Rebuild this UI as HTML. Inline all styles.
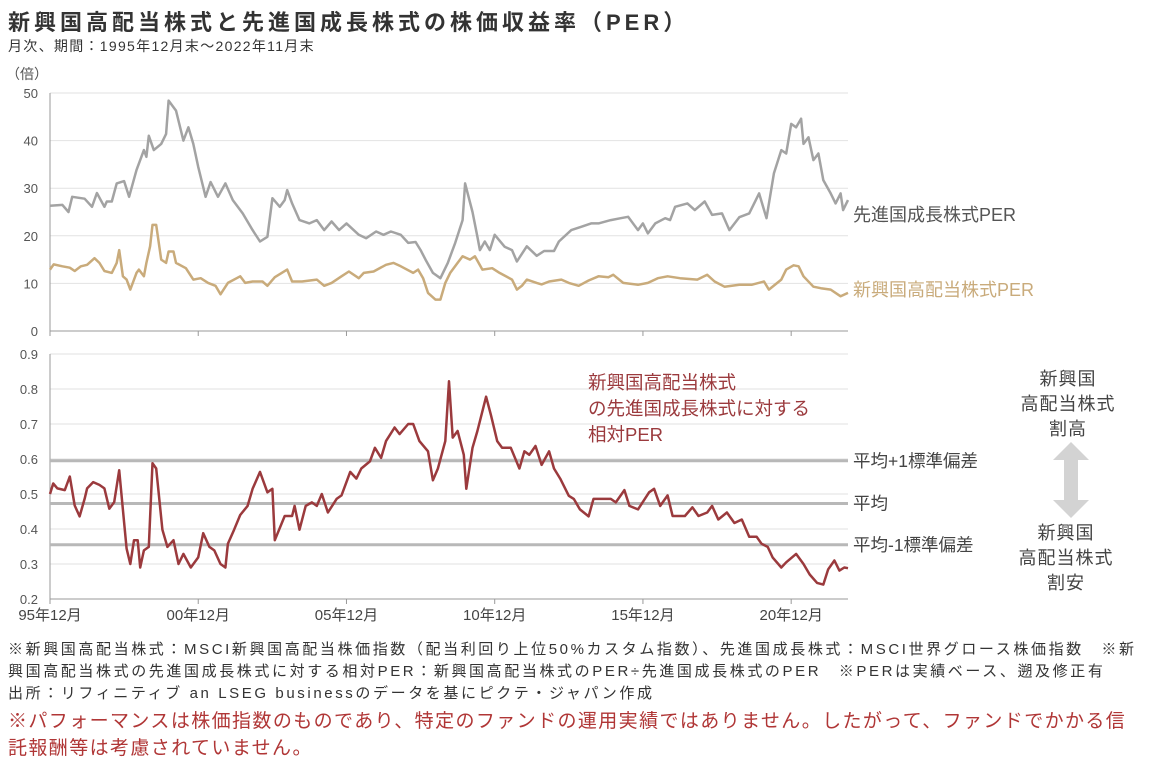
<!DOCTYPE html>
<html><head><meta charset="utf-8">
<style>
body{margin:0;background:#fff;width:1156px;height:759px;overflow:hidden;position:relative;font-family:"Liberation Sans","Noto Sans CJK JP",sans-serif;}
.t{position:absolute;white-space:nowrap;}
</style></head>
<body>
<div class="t" style="left:8px;top:5px;font-size:22px;letter-spacing:4px;font-weight:bold;color:#333;">新興国高配当株式と先進国成長株式の株価収益率（PER）</div>
<div class="t" style="left:8px;top:36px;font-size:14px;letter-spacing:1.3px;color:#333;">月次、期間：1995年12月末～2022年11月末</div>
<svg id="chart" width="1156" height="640" style="position:absolute;left:0;top:0;font-family:'Liberation Sans','Noto Sans CJK JP',sans-serif;"></svg>
<div class="t" style="left:8px;top:638px;font-size:15px;letter-spacing:2.6px;color:#333;">※新興国高配当株式：MSCI新興国高配当株価指数（配当利回り上位50%カスタム指数）、先進国成長株式：MSCI世界グロース株価指数　※新</div>
<div class="t" style="left:8px;top:660px;font-size:15px;letter-spacing:2.6px;color:#333;">興国高配当株式の先進国成長株式に対する相対PER：新興国高配当株式のPER÷先進国成長株式のPER　※PERは実績ベース、遡及修正有</div>
<div class="t" style="left:8px;top:682px;font-size:15px;letter-spacing:2.6px;color:#333;">出所：リフィニティブ an LSEG businessのデータを基にピクテ・ジャパン作成</div>
<div class="t" style="left:8px;top:706px;font-size:19px;letter-spacing:1.4px;color:#b03636;">※パフォーマンスは株価指数のものであり、特定のファンドの運用実績ではありません。したがって、ファンドでかかる信</div>
<div class="t" style="left:8px;top:733px;font-size:19px;letter-spacing:1.4px;color:#b03636;">託報酬等は考慮されていません。</div>
<script>
const growthMonths=[0,5,7.5,9,14,17,19,22,23,25,27,30,32,35,38,39,40,42,45,47,48,51,54,56,58,60,63,65,68,71,74,78,82,85,88,90,93,95,96,98,101,105,108,111,114,117,120,125,128,132,135,138,142,145,148,150,152,155,158,161,164,167,168,171,173,174,176,178,180,184,187,189,193,197,200,204,206,211,215,219,222,227,231,234,238,240,242,245,249,251,253,258,261,265,268,272,275,279,283,287,290,293,296,298,300,302,304,305,307,309,311,313,316,318,320,321,323];
const growthPER=[26.3,26.5,25,28.2,27.8,26.1,29,26.1,27.2,27.2,31,31.5,28.2,33.8,38,36.6,41,38,39.3,41.4,48.4,46.3,40,42.8,39.3,34.5,28.2,31.3,28.2,31,27.5,24.7,21.2,18.8,19.8,27.9,26.1,27.5,29.6,26.8,23.3,22.6,23.3,21.2,23,21.2,22.6,20.2,19.5,20.9,20.2,20.9,20.2,18.5,18.7,17,15,12.2,11.1,14.3,18.5,23.3,31,25,19.8,17,18.8,17,20.2,17.7,17,14.6,17.8,15.8,16.8,16.8,18.8,21.2,21.9,22.6,22.6,23.3,23.7,24,21.2,22.6,20.5,22.6,23.7,23.3,26.1,26.8,25.4,27.2,24.4,24.7,21.2,23.9,24.7,28.9,23.7,33.1,38,37.3,43.5,42.8,44.6,39.3,40.7,35.9,37.3,31.7,28.9,26.8,28.9,25.4,27.5];
const emMonths=[0,1.5,5,8,10,12.5,15,18,20,22,25,27,28,29.5,31,32.5,35,36,38,39,40.5,41.5,43,45,47,48,50,51,55,58,61,64,67,69,72,77,79,82,86,88,91,96,98,102,108,111,114,118,121,125,127,131,136,139,142,147,149,151,153,156,158,160,162,165,167,170,172,175,179,182,187,189,191,193,197,199,202,207,210,214,218,222,226,228,232,238,242,246,250,255,262,266,269,273,279,284,289,291,296,298,301,303,305,309,312,316,320,323];
const emPER=[12.9,14,13.6,13.3,12.6,13.6,13.9,15.3,14.3,12.6,12.2,14.3,17,11.5,10.8,8.7,12.2,12.9,11.5,14.3,17.8,22.3,22.3,15,14.3,16.7,16.7,14.3,13.2,10.8,11.1,10.1,9.5,7.7,10.1,11.5,10.1,10.4,10.4,9.5,11.3,12.9,10.4,10.4,10.8,9.5,10.1,11.5,12.5,11.1,12.2,12.5,13.9,14.3,13.6,12.2,12.9,11.1,8,6.6,6.6,10.1,12.2,14.3,15.7,15,15.7,12.9,13.2,12.2,10.8,8.7,9.5,10.8,10.1,9.8,10.4,10.8,10.1,9.5,10.6,11.5,11.3,11.8,10.1,9.7,10.1,11.1,11.5,11.1,10.8,11.8,10.4,9.3,9.7,9.7,10.4,8.7,10.8,12.9,13.8,13.6,11.5,9.3,9,8.7,7.3,8];
const ratioMonths=[0,1.3,3,6,8,10,12,14,15,17.5,20,22,24,26,28,30,31,32.5,34,35.5,36.5,38,40,41.5,43,45.5,47.5,50,52,54,57,60,62,64.5,66.5,69,71,72,74.5,77,80,82,85,88,90,91,95,98,99,101,103.5,106,108,110,112.5,116,118,121.5,124,126,129.5,131.5,134,136,139.5,141.5,145,147,149.5,153,155,157,160,161.5,163,165,167.5,168.5,171,173,176.5,178.5,181,183,186.5,190,192,194,196.5,199,202,204,206.5,210,212,214.5,218,220,223.5,227,229,232.5,234.5,238,242.5,244.5,247,250,252,257,260,262.5,266,268,270.5,274,277,280,283,286,288,290.5,292.5,296,298,302,305,307.5,310.5,313,315,317.5,319.5,321.5,323];
const ratioPER=[0.50,0.53,0.516,0.511,0.55,0.467,0.436,0.486,0.516,0.534,0.526,0.516,0.458,0.477,0.568,0.419,0.344,0.30,0.368,0.368,0.29,0.339,0.349,0.588,0.573,0.398,0.349,0.368,0.30,0.329,0.29,0.319,0.388,0.349,0.339,0.30,0.29,0.358,0.398,0.44,0.466,0.515,0.563,0.505,0.515,0.368,0.437,0.437,0.466,0.398,0.466,0.476,0.466,0.50,0.447,0.486,0.496,0.563,0.544,0.573,0.593,0.632,0.603,0.651,0.69,0.671,0.70,0.70,0.651,0.622,0.539,0.573,0.651,0.822,0.661,0.68,0.612,0.515,0.632,0.68,0.778,0.725,0.651,0.632,0.632,0.573,0.622,0.612,0.637,0.583,0.622,0.573,0.544,0.495,0.486,0.456,0.436,0.486,0.486,0.486,0.476,0.511,0.466,0.456,0.505,0.515,0.466,0.496,0.437,0.437,0.462,0.437,0.447,0.466,0.427,0.447,0.417,0.427,0.378,0.378,0.358,0.349,0.319,0.29,0.305,0.329,0.30,0.27,0.246,0.241,0.285,0.31,0.281,0.29,0.288];
const topTicks=[0,10,20,30,40,50];
const botTicks=[0.2,0.3,0.4,0.5,0.6,0.7,0.8,0.9];
const xTickMonths=[0,60,120,180,240,300];
const xTickLabels=["95年12月","00年12月","05年12月","10年12月","15年12月","20年12月"];
const bandValues=[0.595,0.473,0.355];
const bandLabels=["平均+1標準偏差","平均","平均-1標準偏差"];

const svg=document.getElementById('chart');
const NS='http://www.w3.org/2000/svg';
const X0=50,X1=848,NM=323;
const x=m=>X0+(X1-X0)*m/NM;
const yT=v=>331-(331-93)*v/50;
const yB=v=>599-(599-354)*(v-0.2)/0.7;
function mk(tag,attrs,parent){const e=document.createElementNS(NS,tag);for(const k in attrs)e.setAttribute(k,attrs[k]);(parent||svg).appendChild(e);return e;}

topTicks.forEach(v=>{
  const g=mk('line',{x1:X0,x2:X1,y1:yT(v),y2:yT(v),stroke:v===0?'#999':'#e2e2e2','stroke-width':1});
  
  
  const t=mk('text',{x:X0-12,y:yT(v)+5,'text-anchor':'end','font-size':13,fill:'#555'});
  t.textContent=v;
  
  
});
botTicks.forEach(v=>{
  const g=mk('line',{x1:X0,x2:X1,y1:yB(v),y2:yB(v),stroke:v===0.2?'#999':'#e2e2e2','stroke-width':1});
  
  
  const t=mk('text',{x:X0-12,y:yB(v)+5,'text-anchor':'end','font-size':13,fill:'#555'});
  t.textContent=v.toFixed(1);
  
  
});
[[93,331],[354,599]].forEach(r=>{
  const a=mk('line',{x1:X0,x2:X0,y1:r[0],y2:r[1],stroke:'#999'});
  
  
});
xTickMonths.forEach((m,i)=>{
  [331,599].forEach(yy=>{
    const tk=mk('line',{x1:x(m),x2:x(m),y1:yy,y2:yy+5,stroke:'#999'});
    
    
  });
  const t=mk('text',{x:x(m),y:620,'text-anchor':'middle','font-size':15,fill:'#444'});
  t.textContent=xTickLabels[i];
  
  
});
const yl=mk('text',{x:6,y:79,'font-size':14,fill:'#555'});
yl.textContent='（倍）';



bandValues.forEach((v,i)=>{
  const l=mk('line',{x1:X0,x2:X1,y1:yB(v),y2:yB(v),stroke:'#b8b8b8','stroke-width':3});
  
  
  const t=mk('text',{x:853,y:yB(v)+6,'font-size':17.5,fill:'#444'});
  t.textContent=bandLabels[i];
  
  
});
function line(ms,vs,yf,col,name){
  const d=ms.map((m,i)=>(i?'L':'M')+x(m).toFixed(1)+','+yf(vs[i]).toFixed(1)).join('');
  const p=mk('path',{d:d,fill:'none',stroke:col,'stroke-width':2.5,'stroke-linejoin':'round'});
  
  
}
line(growthMonths,growthPER,yT,'#a3a3a3','growth-per-line');
line(emMonths,emPER,yT,'#c9ab7b','em-high-dividend-per-line');
line(ratioMonths,ratioPER,yB,'#9b3a3d','relative-per-line');

const l1=mk('text',{x:853,y:221,'font-size':18,fill:'#555'});l1.textContent='先進国成長株式PER';


const l2=mk('text',{x:853,y:296,'font-size':18,fill:'#c9ab7b'});l2.textContent='新興国高配当株式PER';


['新興国高配当株式','の先進国成長株式に対する','相対PER'].forEach((s,i)=>{
  const t=mk('text',{x:588,y:389+i*26,'font-size':18.5,fill:'#9b3a3d'});t.textContent=s;
  
  
});
['新興国','高配当株式','割高'].forEach((s,i)=>{
  const t=mk('text',{x:1068,y:385+i*25,'font-size':18,fill:'#444','text-anchor':'middle','letter-spacing':1});t.textContent=s;
  
  
});
['新興国','高配当株式','割安'].forEach((s,i)=>{
  const t=mk('text',{x:1066,y:539+i*25,'font-size':18,fill:'#444','text-anchor':'middle','letter-spacing':1});t.textContent=s;
  
  
});
const ar=mk('polygon',{points:'1071,442 1089,460 1078,460 1078,500 1089,500 1071,518 1053,500 1064,500 1064,460 1053,460',fill:'#d3d3d3'});


</script>
</body></html>
